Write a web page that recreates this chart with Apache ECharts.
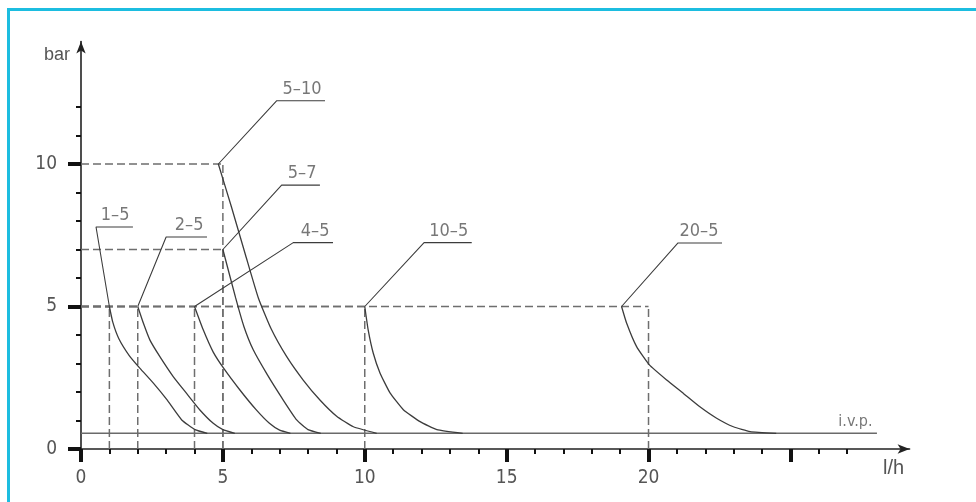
<!DOCTYPE html>
<html><head><meta charset="utf-8">
<script src="https://cdn.jsdelivr.net/npm/echarts@6/dist/echarts.min.js"></script>
<style>
html,body{margin:0;padding:0;background:#fff;overflow:hidden;}
#c{position:absolute;left:0;top:0;width:976px;height:502px;}
#frame{position:absolute;left:7px;top:8px;width:980px;height:600px;border-top:3px solid #1cbde0;border-left:3px solid #1cbde0;pointer-events:none;}
</style></head><body>
<div id="c"></div><div id="frame"></div>
<script>
// ---- data ----
const curveNames = ['1–5','2–5','4–5','5–7','5–10','10–5','20–5'];
const curve1_5  = [[1.0,5.0],[1.12,4.45],[1.33,3.88],[1.7,3.28],[2.08,2.83],[2.55,2.31],[3.02,1.74],[3.55,1.02],[4.02,0.68],[4.45,0.55]];
const curve2_5  = [[2.0,5.0],[2.2,4.41],[2.43,3.82],[2.78,3.24],[3.25,2.54],[3.72,1.95],[4.19,1.37],[4.66,0.9],[5.0,0.68],[5.42,0.55]];
const curve4_5  = [[4.0,5.0],[4.3,4.2],[4.66,3.4],[5.05,2.8],[5.6,2.07],[6.17,1.38],[6.64,0.9],[7.0,0.66],[7.38,0.55]];
const curve5_7  = [[5.0,7.0],[5.45,5.3],[5.74,4.3],[6.07,3.48],[6.57,2.6],[7.1,1.76],[7.6,1.02],[8.0,0.68],[8.45,0.55]];
const curve5_10 = [[4.84,10.0],[5.3,8.5],[5.8,6.8],[6.25,5.3],[6.7,4.22],[7.25,3.24],[7.83,2.42],[8.42,1.72],[9.01,1.15],[9.6,0.78],[10.42,0.55]];
const curve10_5 = [[10.0,5.0],[10.12,4.18],[10.3,3.36],[10.54,2.66],[10.89,1.97],[11.36,1.38],[11.95,0.96],[12.54,0.68],[13.45,0.55]];
const curve20_5 = [[19.05,5.0],[19.23,4.41],[19.58,3.59],[20.03,2.95],[20.64,2.42],[21.23,1.95],[21.81,1.48],[22.4,1.08],[22.99,0.78],[23.58,0.61],[24.5,0.55]];
const curves = [curve1_5, curve2_5, curve4_5, curve5_7, curve5_10, curve10_5, curve20_5];

// nominal operating points (dashed reference lines)
const refPoints = [[1,5],[2,5],[4,5],[5,7],[5,10],[10,5],[20,5]];
// label leader knees and underline ends
const leaderKnees = [[0.53,7.79],[3.0,7.44],[7.48,7.24],[7.07,9.26],[6.9,12.22],[12.09,7.24],[21.04,7.23]];
const underlineEnds = [1.83,4.44,8.88,8.42,8.6,13.77,22.59];

const ivpLevel = 0.55;
const ivpEnd = 28.05;
const ivpText = 'i.v.p.';

const xMajorTicks = [0,5,10,15,20,25];
const xMinorTicks = [1,2,3,4,6,7,8,9,11,12,13,14,16,17,18,19,21,22,23,24,26,27];
const xTickLabels = [0,5,10,15,20];
const yMajorTicks = [0,5,10];
const yMinorTicks = [1,2,3,4,6,7,8,9,11,12];
const yTickLabels = [0,5,10];
const yName = 'bar', xName = 'l/h';

// ---- chart ----
const FONT = '"Liberation Sans Narrow","DejaVu Sans Condensed","Liberation Sans",sans-serif';
const XMAX = 29.2, YMAX = 14.3;
const lineCol = '#3c3c3c';

function xAx(ticks, major, labels, showLine){
  return {type:'value', position:'bottom', min:0, max:XMAX, offset:0,
    splitLine:{show:false},
    axisLine:{show:showLine, onZero:false, symbol:['none','arrow'], symbolSize:[7,12], lineStyle:{color:'#222', width:1.6}},
    axisTick:{show:true, customValues:ticks, length: major?13:5, lineStyle:{color:'#111', width: major?4:2}},
    axisLabel:{show:!!labels, customValues:labels||[], margin:20, fontSize:19, color:'#555', fontFamily:FONT}
  };
}
function yAx(ticks, major, labels, showLine){
  return {type:'value', position:'left', min:0, max:YMAX, offset:0,
    splitLine:{show:false},
    axisLine:{show:showLine, onZero:false, symbol:['none','arrow'], symbolSize:[7,12], lineStyle:{color:'#222', width:1.6}},
    axisTick:{show:true, customValues:ticks, length: major?13:5, lineStyle:{color:'#111', width: major?4:2}},
    axisLabel:{show:!!labels, customValues:labels||[], margin:24, fontSize:19, color:'#555', fontFamily:FONT}
  };
}

const series = [];
// dashed reference lines
refPoints.forEach(p=>{
  series.push({type:'line', data:[[0,p[1]],[p[0],p[1]]], symbol:'none', silent:true,
    lineStyle:{color:'#6e6e6e', width:1.5, type:[8,4]}});
  series.push({type:'line', data:[[p[0],0],[p[0],p[1]]], symbol:'none', silent:true,
    lineStyle:{color:'#6e6e6e', width:1.5, type:[8,4]}});
});
// i.v.p. line
series.push({type:'line', data:[[0,ivpLevel],[ivpEnd,ivpLevel]], symbol:'none',
  lineStyle:{color:'#6a6a6a', width:1.5}});
series.push({type:'scatter', data:[[ivpEnd,ivpLevel]], symbolSize:1, itemStyle:{color:'rgba(0,0,0,0)'},
  label:{show:true, formatter:ivpText, position:[-4,-3], align:'right', verticalAlign:'bottom',
    fontSize:16, color:'#555', fontFamily:FONT}});
// curves
curves.forEach((c,i)=>{
  series.push({type:'line', name:curveNames[i], data:c, symbol:'none', smooth:0.15,
    lineStyle:{color:lineCol, width:1.3}});
  // leader + underline
  const k = leaderKnees[i];
  series.push({type:'line', data:[c[0], k, [underlineEnds[i], k[1]]], symbol:'none',
    lineStyle:{color:lineCol, width:1.1}});
});
// label texts
series.push({type:'scatter', symbolSize:1, itemStyle:{color:'rgba(0,0,0,0)'},
  data: curveNames.map((n,i)=>({name:n, value:[underlineEnds[i], leaderKnees[i][1]]})),
  label:{show:true, formatter:'{b}', position:[-3,-2], align:'right', verticalAlign:'bottom',
    fontSize:18, color:'#555', fontFamily:FONT}});

const chart = echarts.init(document.getElementById('c'), null, {renderer:'canvas'});
chart.setOption({
  animation:false,
  backgroundColor:'#fff',
  grid:{left:81, right:976-81-XMAX*28.376, top:449-YMAX*28.5, bottom:53, containLabel:false},
  xAxis:[xAx(xMajorTicks,true,xTickLabels,true), xAx(xMinorTicks,false,null,false)],
  yAxis:[yAx(yMajorTicks,true,yTickLabels,true), yAx(yMinorTicks,false,null,false)],
  graphic:[
    {type:'text', left:44, top:46, style:{text:yName, fontSize:18, fill:'#555', font:'18px '+FONT}},
    {type:'text', left:883, top:458, style:{text:xName, fontSize:20, fill:'#555', font:'20px '+FONT}}
  ],
  series: series
});
</script>
</body></html>
